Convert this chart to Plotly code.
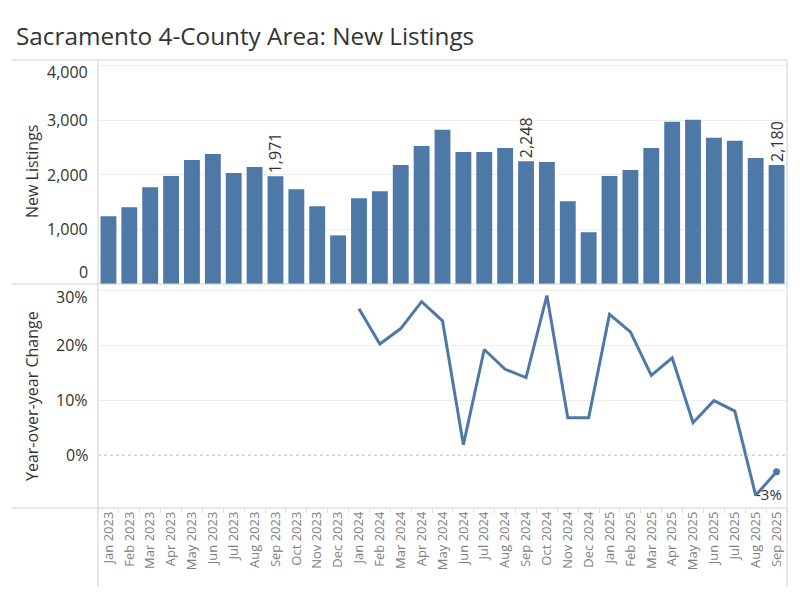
import plotly.graph_objects as go
from plotly.subplots import make_subplots

months = [
    "Jan 2023", "Feb 2023", "Mar 2023", "Apr 2023", "May 2023", "Jun 2023",
    "Jul 2023", "Aug 2023", "Sep 2023", "Oct 2023", "Nov 2023", "Dec 2023",
    "Jan 2024", "Feb 2024", "Mar 2024", "Apr 2024", "May 2024", "Jun 2024",
    "Jul 2024", "Aug 2024", "Sep 2024", "Oct 2024", "Nov 2024", "Dec 2024",
    "Jan 2025", "Feb 2025", "Mar 2025", "Apr 2025", "May 2025", "Jun 2025",
    "Jul 2025", "Aug 2025", "Sep 2025",
]
new_listings = [
    1239, 1405, 1773, 1975, 2270, 2380, 2031, 2141, 1971, 1736, 1423, 890,
    1571, 1699, 2178, 2528, 2822, 2417, 2417, 2491, 2248, 2233, 1515, 945,
    1975, 2086, 2491, 2969, 3006, 2675, 2620, 2307, 2180,
]
yoy_change_pct = [
    None, None, None, None, None, None, None, None, None, None, None, None,
    26.6, 20.2, 23.0, 27.9, 24.4, 1.9, 19.2, 15.6, 14.1, 29.0, 6.8, 6.8,
    25.6, 22.4, 14.5, 17.7, 5.9, 9.9, 8.0, -7.3, -3.0,
]
labeled_months = ["Sep 2023", "Sep 2024", "Sep 2025"]
top_ticks = [0, 1000, 2000, 3000, 4000]
bottom_ticks = [0, 10, 20, 30]

BLUE = "#4e79a7"
FONT = "Open Sans"
DARK = "#333333"

fig = make_subplots(rows=2, cols=1, shared_xaxes=True, vertical_spacing=0)

bar_text = [f"{v:,}" if m in labeled_months else "" for m, v in zip(months, new_listings)]
fig.add_trace(go.Bar(
    x=months, y=new_listings, marker_color=BLUE, marker_line_width=0,
    text=bar_text, textposition="outside", textangle=-90,
    textfont=dict(size=16, color=DARK, family=FONT),
    cliponaxis=False, constraintext="none", hoverinfo="x+y",
), row=1, col=1)

fig.add_trace(go.Scatter(
    x=months, y=yoy_change_pct, mode="lines",
    line=dict(color=BLUE, width=3), hoverinfo="x+y",
), row=2, col=1)
fig.add_trace(go.Scatter(
    x=[months[-1]], y=[yoy_change_pct[-1]], mode="markers",
    marker=dict(color=BLUE, size=7), hoverinfo="skip", cliponaxis=False,
), row=2, col=1)

fig.update_layout(
    width=800, height=600,
    margin=dict(l=98, r=13, t=60, b=92),
    paper_bgcolor="white", plot_bgcolor="white",
    showlegend=False, bargap=0.24,
    font=dict(family=FONT, color=DARK),
    title=dict(text="Sacramento 4-County Area: New Listings",
               x=16 / 800, xanchor="left", y=1 - 36 / 600, yanchor="middle",
               font=dict(size=24.3, color=DARK, family=FONT)),
)

fig.update_xaxes(range=[-0.5, len(months) - 0.5], showgrid=False, zeroline=False,
                 showline=False)
fig.update_xaxes(showticklabels=False, ticks="", row=1, col=1)
fig.update_xaxes(tickangle=-90, tickfont=dict(size=13, color="#808080", family=FONT),
                 ticks="outside", tickson="boundaries", ticklen=4, tickcolor="#dddddd",
                 row=2, col=1)

fig.update_yaxes(range=[0, 4100], tickvals=top_ticks[1:], showticklabels=False,
                 gridcolor="#ececec", zeroline=False, showline=False, row=1, col=1)
fig.update_yaxes(range=[-9.6, 31.1], tickvals=bottom_ticks[1:], showticklabels=False,
                 gridcolor="#ececec", zeroline=False, showline=False, row=2, col=1)

# dotted zero line
fig.add_shape(type="line", xref="x2 domain", yref="y2", x0=0, x1=1, y0=0, y1=0,
              line=dict(color="#bbbbbb", width=1, dash="dot"))

# frame lines
px_x = lambda p: (p - 98) / 689
px_y = lambda p: (508 - p) / 448
line_style = dict(color="#d0d0d0", width=1)
for yy in [60, 284, 508]:
    fig.add_shape(type="line", xref="paper", yref="paper", x0=px_x(12), x1=1,
                  y0=px_y(yy), y1=px_y(yy), line=line_style)
for xx in [98, 787]:
    fig.add_shape(type="line", xref="paper", yref="paper", x0=px_x(xx), x1=px_x(xx),
                  y0=px_y(60), y1=px_y(587), line=line_style)

# y tick labels
for v in top_ticks:
    shift = -7 if v == 4000 else (12 if v == 0 else 0)
    fig.add_annotation(x=0, xref="paper", y=v, yref="y", text=f"{v:,}",
                       xanchor="right", yanchor="middle", xshift=-8, yshift=shift,
                       showarrow=False, font=dict(size=16, color=DARK, family=FONT))
for v in bottom_ticks:
    shift = -7 if v == 30 else 0
    fig.add_annotation(x=0, xref="paper", y=v, yref="y2", text=f"{v}%",
                       xanchor="right", yanchor="middle", xshift=-8, yshift=shift,
                       showarrow=False, font=dict(size=16, color=DARK, family=FONT))

# axis titles
fig.add_annotation(x=0, xref="paper", y=0.75, yref="paper", text="New Listings",
                   textangle=-90, xanchor="center", yanchor="middle", xshift=-66,
                   showarrow=False, font=dict(size=16, color=DARK, family=FONT))
fig.add_annotation(x=0, xref="paper", y=0.25, yref="paper", text="Year-over-year Change",
                   textangle=-90, xanchor="center", yanchor="middle", xshift=-66,
                   showarrow=False, font=dict(size=16, color=DARK, family=FONT))

# last value label
fig.add_annotation(x=months[-1], xref="x2", y=yoy_change_pct[-1], yref="y2",
                   text=f"{yoy_change_pct[-1]:.0f}%", showarrow=False,
                   xshift=-8, yshift=-22,
                   font=dict(size=15, color=DARK, family=FONT))

fig.write_html("out.html", config={"displayModeBar": False},
               post_script="document.body.style.margin='0';document.body.style.overflow='hidden';")
